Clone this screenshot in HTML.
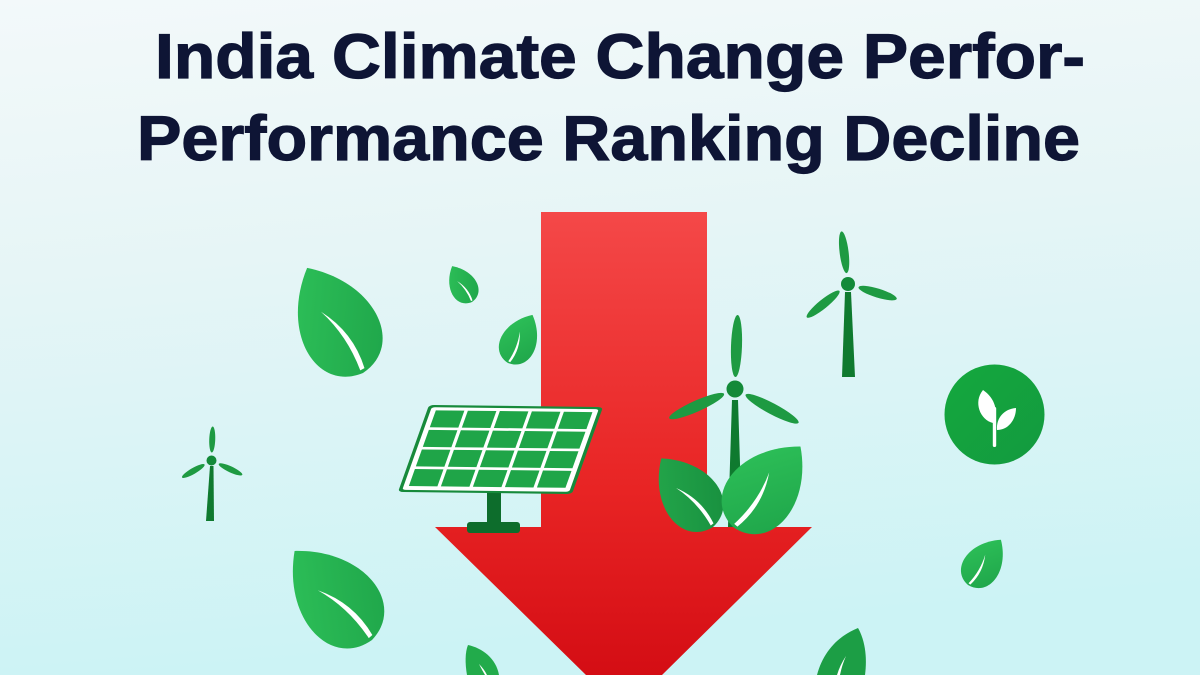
<!DOCTYPE html>
<html><head><meta charset="utf-8"><style>
html,body{margin:0;padding:0;width:1200px;height:675px;overflow:hidden;}
svg{display:block;}
</style></head><body>
<svg width="1200" height="675" viewBox="0 0 1200 675" xmlns="http://www.w3.org/2000/svg">
<defs>
<linearGradient id="bg" x1="0" y1="0" x2="0.15" y2="1">
<stop offset="0" stop-color="#f3f9fa"/>
<stop offset="0.4" stop-color="#e6f5f6"/>
<stop offset="1" stop-color="#ccf3f5"/>
</linearGradient>
<linearGradient id="red" x1="0" y1="0" x2="0" y2="1">
<stop offset="0" stop-color="#f44848"/>
<stop offset="0.6" stop-color="#e82424"/>
<stop offset="1" stop-color="#d40d14"/>
</linearGradient>
<linearGradient id="lf" x1="0" y1="0" x2="1" y2="1">
<stop offset="0" stop-color="#2fc35a"/>
<stop offset="1" stop-color="#1ea449"/>
</linearGradient>
<linearGradient id="lfd" x1="0" y1="0" x2="1" y2="1">
<stop offset="0" stop-color="#25a94c"/>
<stop offset="1" stop-color="#178e3e"/>
</linearGradient>
<linearGradient id="circ" x1="0" y1="0" x2="1" y2="1">
<stop offset="0" stop-color="#14a83e"/>
<stop offset="1" stop-color="#139a3f"/>
</linearGradient>
<path id="leafL" d="M0,0 C-42,-4 -46,-62 0,-100 C46,-62 42,-4 0,0 Z" fill="url(#lf)"/>
<path id="leafD" d="M0,0 C-42,-4 -46,-62 0,-100 C46,-62 42,-4 0,0 Z" fill="url(#lfd)"/>
<path id="vein" d="M3,-3 Q9,-34 -7,-62 Q3,-34 -1,-3 Z" fill="#ffffff"/>
</defs>

<rect width="1200" height="675" fill="url(#bg)"/>

<!-- Title -->
<g font-family="'Liberation Sans', sans-serif" font-weight="700" font-size="63" fill="#0e1535" stroke="#0e1535" stroke-width="1.2">
<text x="155" y="78" textLength="930" lengthAdjust="spacingAndGlyphs">India Climate Change Perfor-</text>
<text x="137" y="160" textLength="943" lengthAdjust="spacingAndGlyphs">Performance Ranking Decline</text>
</g>

<!-- Arrow (clipped at frame bottom) -->
<polygon points="541,212 707,212 707,527 812,527 662,675 586,675 435,527 541,527" fill="url(#red)"/>

<!-- Solar panel -->
<rect x="487" y="490" width="14" height="34" fill="#0d6d2c"/>
<rect x="467" y="522" width="53" height="11" rx="3" fill="#0d6d2c"/>
<g transform="matrix(1.74,0.02,-0.31,0.87,429,405)">
<rect x="0" y="0" width="100" height="100" rx="3" fill="#178a3b"/>
<rect x="2" y="2.5" width="96" height="95" rx="2" fill="#ffffff"/>
<g fill="#1fa548">
<rect x="5" y="6" width="16.4" height="19.5"/><rect x="23.4" y="6" width="16.4" height="19.5"/><rect x="41.8" y="6" width="16.4" height="19.5"/><rect x="60.2" y="6" width="16.4" height="19.5"/><rect x="78.6" y="6" width="16.4" height="19.5"/>
<rect x="5" y="28.5" width="16.4" height="19.5"/><rect x="23.4" y="28.5" width="16.4" height="19.5"/><rect x="41.8" y="28.5" width="16.4" height="19.5"/><rect x="60.2" y="28.5" width="16.4" height="19.5"/><rect x="78.6" y="28.5" width="16.4" height="19.5"/>
<rect x="5" y="51" width="16.4" height="19.5"/><rect x="23.4" y="51" width="16.4" height="19.5"/><rect x="41.8" y="51" width="16.4" height="19.5"/><rect x="60.2" y="51" width="16.4" height="19.5"/><rect x="78.6" y="51" width="16.4" height="19.5"/>
<rect x="5" y="73.5" width="16.4" height="19.5"/><rect x="23.4" y="73.5" width="16.4" height="19.5"/><rect x="41.8" y="73.5" width="16.4" height="19.5"/><rect x="60.2" y="73.5" width="16.4" height="19.5"/><rect x="78.6" y="73.5" width="16.4" height="19.5"/>
</g>
</g>

<!-- Main turbine -->
<g>
<polygon points="732,400 738,400 742,527 728,527" fill="#0f7a2f"/>
<g transform="translate(735,389)" fill="#1e9a42">
<ellipse cx="0" cy="-43" rx="5.5" ry="31" transform="rotate(2)"/>
<ellipse cx="0" cy="-42" rx="5.5" ry="30" transform="rotate(-114)"/>
<ellipse cx="0" cy="-42" rx="5.5" ry="30" transform="rotate(118)"/>
<circle r="8.5" fill="#138a39"/>
</g>
</g>

<!-- Leaves by turbine -->
<g transform="translate(713,527) rotate(-37) scale(0.86)"><use href="#leafD"/><use href="#vein"/></g>
<g transform="translate(733,527) rotate(40) scale(1.05)"><use href="#leafL"/><use href="#vein"/></g>

<!-- Upper right turbine -->
<g>
<polygon points="845,292 851,292 855,377 842,377" fill="#0f7a2f"/>
<g transform="translate(848,284)" fill="#1e9a42">
<ellipse cx="0" cy="-32" rx="4.5" ry="21" transform="rotate(-7)"/>
<ellipse cx="0" cy="-32" rx="4.5" ry="21" transform="rotate(-129)"/>
<ellipse cx="0" cy="-31" rx="4.5" ry="20" transform="rotate(107)"/>
<circle r="7" fill="#138a39"/>
</g>
</g>

<!-- Small left turbine -->
<g>
<polygon points="210,466 213.5,466 214,521 206,521" fill="#0f7a2f"/>
<g transform="translate(211.5,460.5)" fill="#1e9a42">
<ellipse cx="0" cy="-21" rx="3" ry="13" transform="rotate(2)"/>
<ellipse cx="0" cy="-21" rx="3" ry="13" transform="rotate(-120)"/>
<ellipse cx="0" cy="-21" rx="3" ry="13" transform="rotate(115)"/>
<circle r="5" fill="#138a39"/>
</g>
</g>

<!-- Floating leaves -->
<g transform="translate(363,373) rotate(-28) scale(1.19)"><use href="#leafL"/><use href="#vein"/></g>
<g transform="translate(372,640) rotate(-41) scale(1.18)"><use href="#leafL"/><use href="#vein"/></g>
<g transform="translate(472,302) rotate(-29) scale(0.41)"><use href="#leafL"/><use href="#vein"/></g>
<g transform="translate(508,363) rotate(27) scale(0.54)"><use href="#leafL"/><use href="#vein"/></g>
<g transform="translate(968,585) rotate(36) scale(0.56)"><use href="#leafL"/><use href="#vein"/></g>

<!-- Bottom-edge leaves (truncated at frame edge) -->
<path d="M468,645 C482,648 496,658 499,675 L467,675 C465,664 465,652 468,645 Z" fill="#22ab4b"/>
<path d="M479,664 Q484,669 487,675 L485,675 Q482,670 479,664 Z" fill="#ffffff"/>
<path d="M858,628 C866,642 867,660 865,675 L817,675 C823,652 838,636 858,628 Z" fill="#1c9e45"/>
<path d="M846,656 Q840,665 837,675 L840,675 Q842,665 846,656 Z" fill="#ffffff"/>

<!-- Circle sprout icon -->
<circle cx="994.5" cy="414.5" r="50" fill="url(#circ)"/>
<g fill="#ffffff">
<rect x="992.8" y="407" width="3.4" height="40" rx="1.5"/>
<path d="M993,423 C980,420 973,402 983,390 C995,398 999,412 993,423 Z"/>
<path d="M997,430 C996,418 1004,409 1016,408 C1016,420 1008,430 997,430 Z"/>
</g>
</svg>
</body></html>
